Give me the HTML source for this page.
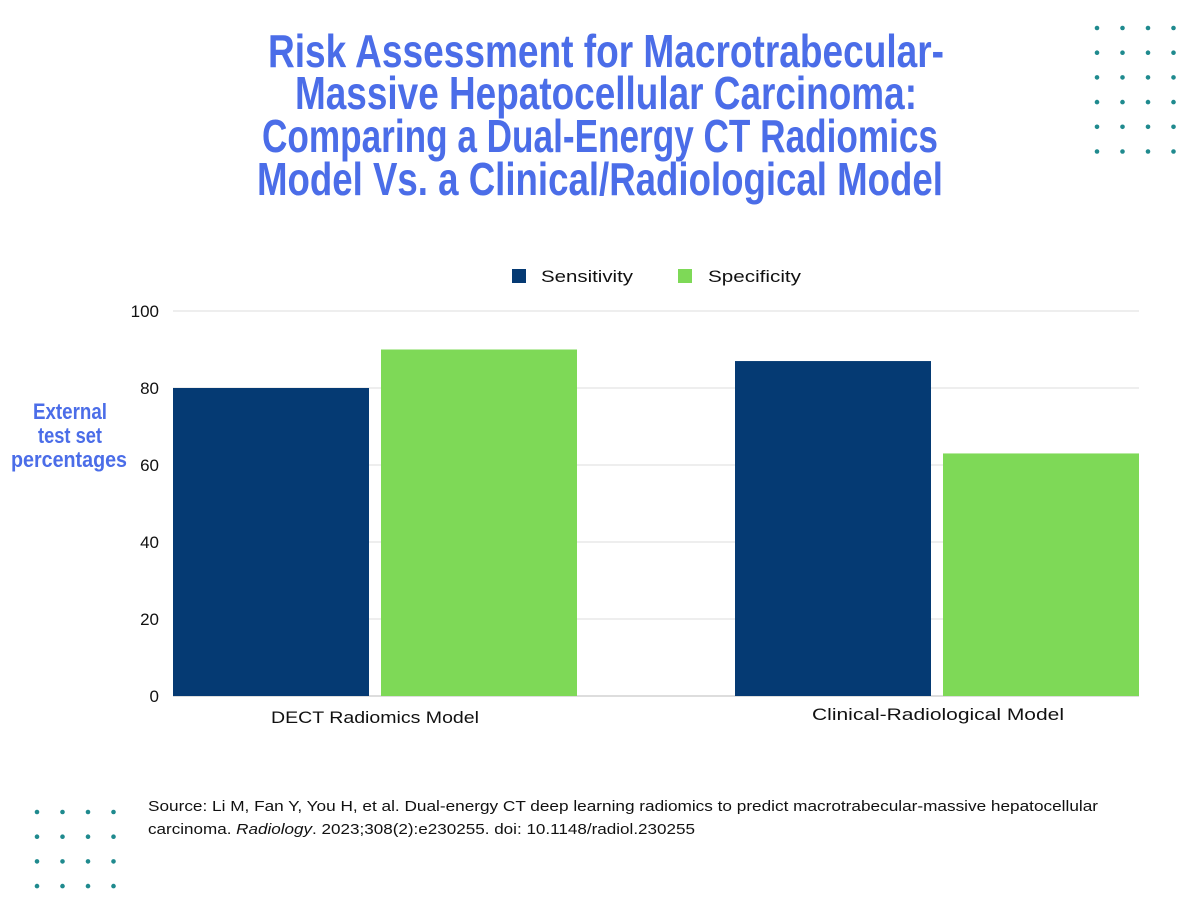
<!DOCTYPE html>
<html><head><meta charset="utf-8"><style>
html,body{margin:0;padding:0;background:#fff;}
svg{display:block;}
</style></head><body>
<svg id="c" width="1200" height="900" viewBox="0 0 1200 900" xmlns="http://www.w3.org/2000/svg">
<g font-family="'Liberation Sans Narrow','Liberation Sans',sans-serif" font-weight="bold" font-size="46" fill="#4b6de8" text-anchor="middle">
<text x="606" y="67" textLength="676" lengthAdjust="spacingAndGlyphs">Risk Assessment for Macrotrabecular-</text>
<text x="606" y="109" textLength="622" lengthAdjust="spacingAndGlyphs">Massive Hepatocellular Carcinoma:</text>
<text x="600" y="152" textLength="676" lengthAdjust="spacingAndGlyphs">Comparing a Dual-Energy CT Radiomics</text>
<text x="600" y="195" textLength="686" lengthAdjust="spacingAndGlyphs">Model Vs. a Clinical/Radiological Model</text>
</g>
<g id="dots" fill="#1f8a8e"></g>
<g id="grid"></g>
<g id="bars"></g>
<g id="yt" font-family="'Liberation Sans',sans-serif" font-size="17" fill="#111" text-anchor="end"></g>
<g id="xl" font-family="'Liberation Sans',sans-serif" font-size="17" fill="#111" text-anchor="middle"></g>
<g font-family="'Liberation Sans Narrow','Liberation Sans',sans-serif" font-weight="bold" font-size="22" fill="#4b6de8" text-anchor="middle">
<text x="70" y="419" textLength="74" lengthAdjust="spacingAndGlyphs">External</text>
<text x="70" y="443" textLength="64" lengthAdjust="spacingAndGlyphs">test set</text>
<text x="69" y="467" textLength="116" lengthAdjust="spacingAndGlyphs">percentages</text>
</g>
<g font-family="'Liberation Sans',sans-serif" font-size="17" fill="#111">
<g><rect x="512" y="269" width="14" height="14" fill="#053a73"/><text x="541" y="282" textLength="92" lengthAdjust="spacingAndGlyphs">Sensitivity</text></g>
<g><rect x="678" y="269" width="14" height="14" fill="#7ed957"/><text x="708" y="282" textLength="93" lengthAdjust="spacingAndGlyphs">Specificity</text></g>
</g>
<g font-family="'Liberation Sans',sans-serif" font-size="15" fill="#111">
<text x="148" y="811" textLength="950" lengthAdjust="spacingAndGlyphs">Source: Li M, Fan Y, You H, et al. Dual-energy CT deep learning radiomics to predict macrotrabecular-massive hepatocellular</text>
<text x="148" y="834" textLength="547" lengthAdjust="spacingAndGlyphs">carcinoma. <tspan font-style="italic">Radiology</tspan>. 2023;308(2):e230255. doi: 10.1148/radiol.230255</text>
</g>
</svg>
<script>
const categories = ["DECT Radiomics Model", "Clinical-Radiological Model"];
const sensitivity = [80, 87];
const specificity = [90, 63];
const yTicks = [0, 20, 40, 60, 80, 100];
const NS = "http://www.w3.org/2000/svg";
const y0 = 696, y100 = 311, xL = 173, xR = 1139;
function yS(v){ return y0 - (v/100)*(y0 - y100); }
function mk(t, a, p){ const e = document.createElementNS(NS, t); for (const k in a) e.setAttribute(k, a[k]); p.appendChild(e); return e; }
const grid = document.getElementById('grid'), yt = document.getElementById('yt');
yTicks.forEach(v => {
  const l = mk('line', {x1: xL, x2: xR, y1: yS(v), y2: yS(v), stroke: v===0 ? '#bbb' : '#ddd', 'stroke-width': 1}, grid);
  
  
  const t = mk('text', {x: 159, y: yS(v) + 6}, yt);
  t.textContent = v;
  
  
});
const bars = document.getElementById('bars'), xl = document.getElementById('xl');
const barW = 196, gap = 12;
const labelW = [208, 252];
categories.forEach((c, i) => {
  const start = i === 0 ? xL : xR - 2*barW - gap;
  const series = [[sensitivity[i], '#053a73', 'bar-sensitivity'], [specificity[i], '#7ed957', 'bar-specificity']];
  series.forEach((s, j) => {
    const x = start + j*(barW + gap);
    const r = mk('rect', {x: x, y: yS(s[0]), width: barW, height: y0 - yS(s[0]), fill: s[1]}, bars);
    
    
  });
  const t = mk('text', {x: i === 0 ? 375 : 938, y: i === 0 ? 723 : 720, textLength: labelW[i], lengthAdjust: 'spacingAndGlyphs'}, xl);
  t.textContent = c;
  
  
});
const dots = document.getElementById('dots');
[[1097, 28], [37, 812]].forEach((o, k) => {
  const rows = k === 0 ? 6 : 4;
  for (let r = 0; r < rows; r++) for (let c = 0; c < 4; c++) {
    const d = mk('circle', {cx: o[0] + c*25.5, cy: o[1] + r*24.7, r: 2.3}, dots);
    
    
  }
});
</script>
</body></html>
